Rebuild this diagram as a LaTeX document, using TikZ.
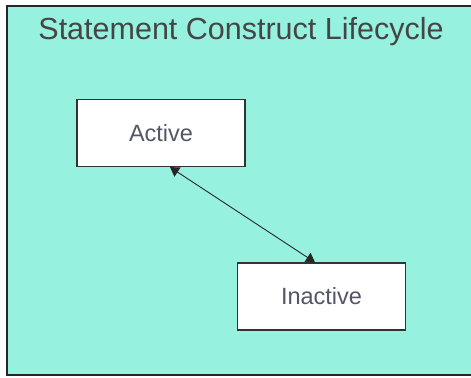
\documentclass[tikz,border=0pt]{standalone}
\usepackage{fontspec}
\setmainfont{Liberation Sans}
\usetikzlibrary{arrows.meta}
\definecolor{bgteal}{HTML}{96F2DF}
\definecolor{titlegray}{HTML}{454545}
\definecolor{labelgray}{HTML}{55556A}
\tikzset{
  statebox/.style={draw=black!80, line width=1.3bp, fill=white, minimum width=168bp, minimum height=67bp, inner sep=0pt, font=\fontsize{23.5bp}{26bp}\selectfont, text=labelgray},
  link/.style={line width=0.9bp, black!85, {Triangle[length=9bp,width=11bp]}-{Triangle[length=9bp,width=11bp]}}
}
\begin{document}
\begin{tikzpicture}[x=1bp,y=-1bp]
\useasboundingbox (0,0) rectangle (471,377);
\begin{scope}
\clip (0,0) rectangle (471,377);
\draw[fill=bgteal, draw=black!85, line width=2bp] (7,6) rectangle (476,375);
\end{scope}
\node[font=\fontsize{30.5bp}{34bp}\selectfont, text=titlegray] (title) at (241,32) {Statement Construct Lifecycle};
\node[statebox] (active) at (161,133) {Active};
\node[statebox] (inactive) at (321.5,296.5) {Inactive};
\draw[link] ([xshift=9bp]active.south) -- ([xshift=-6.5bp]inactive.north);
\end{tikzpicture}
\end{document}
